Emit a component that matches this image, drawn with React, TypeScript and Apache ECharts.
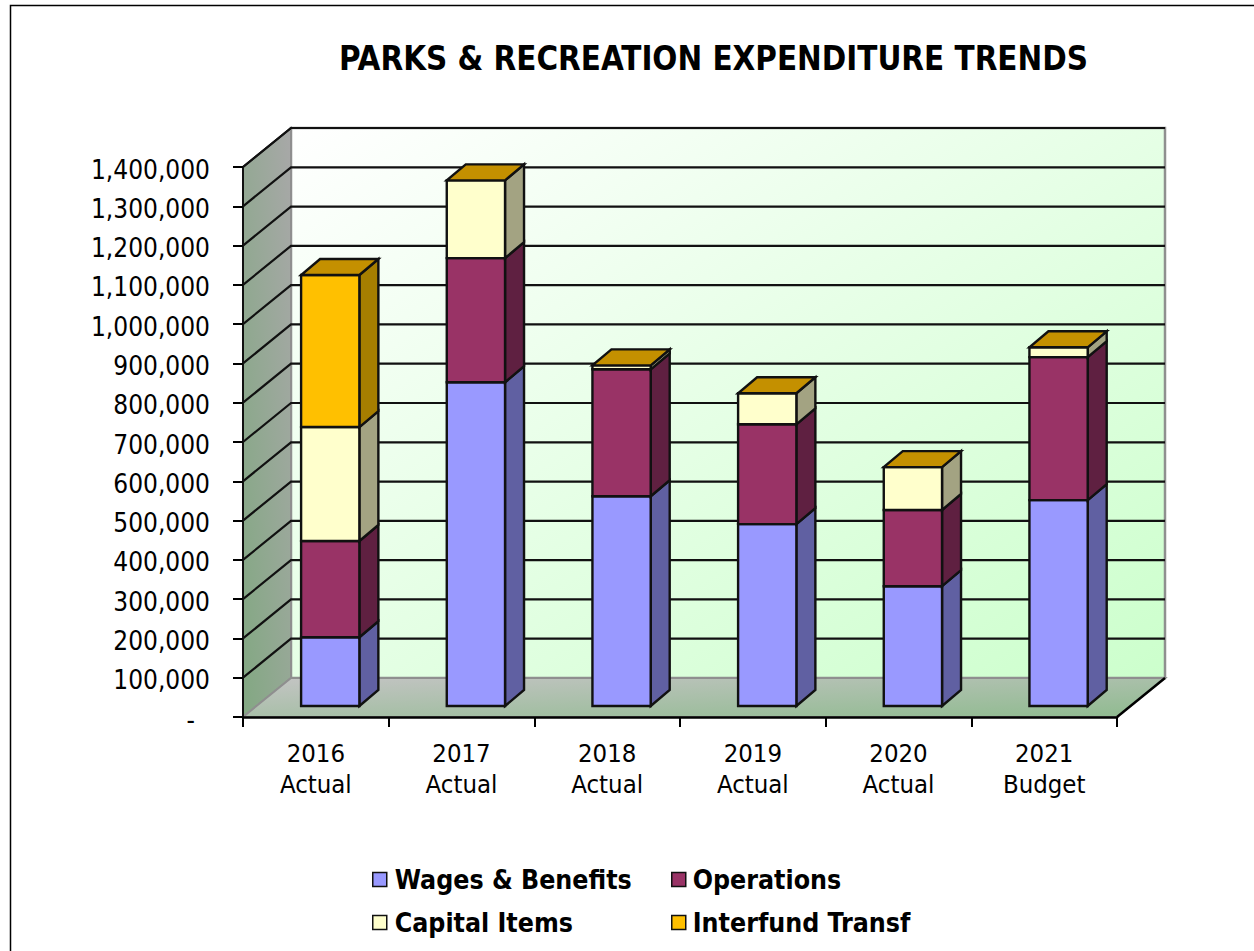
import React, { useEffect, useRef } from "react";
import * as echarts from "echarts";

const years = ["2016\nActual", "2017\nActual", "2018\nActual", "2019\nActual", "2020\nActual", "2021\nBudget"];
const wages = [175000, 824000, 534000, 463000, 305000, 524000];
const operations = [245000, 316000, 323000, 254000, 194000, 364000];
const capitalItems = [290000, 198000, 10000, 79000, 109000, 25000];
const interfund = [387000, 0, 0, 0, 0, 0];
const gridValues = [100000, 200000, 300000, 400000, 500000, 600000, 700000, 800000, 900000, 1000000, 1100000, 1200000, 1300000, 1400000];

const FONT = "'DejaVu Sans Condensed', 'DejaVu Sans', sans-serif";

// Projection of the chart's depth axis onto the screen
const WALL_DX = 48;
const WALL_DY = -39;
const BAR_DX = 14.4;
const BAR_DY = -11;
const BAR_DEPTH_X = 19;
const BAR_DEPTH_Y = -16;
const BAR_RATIO = 0.4;

const poly = (points: number[][], fill: any, stroke = "#111", lineWidth = 2.4) => ({
  type: "polygon",
  shape: { points },
  style: { fill, stroke, lineWidth, lineJoin: "miter" },
});

const renderWalls = (params: any) => {
  const { x, y, width: w, height: h } = params.coordSys;
  const b = y + h;
  const grey = "#8f8f8f";
  return {
    type: "group",
    children: [
      poly(
        [[x + WALL_DX, y + WALL_DY], [x + w + WALL_DX, y + WALL_DY], [x + w + WALL_DX, b + WALL_DY], [x + WALL_DX, b + WALL_DY]],
        new echarts.graphic.LinearGradient(0, 0, 1, 1, [
          { offset: 0, color: "#ffffff" },
          { offset: 1, color: "#ccffcc" },
        ]),
        grey,
        2.5
      ),
      poly(
        [[x, y], [x + WALL_DX, y + WALL_DY], [x + WALL_DX, b + WALL_DY], [x, b]],
        new echarts.graphic.LinearGradient(0, 1, 1, 0, [
          { offset: 0, color: "#82a882" },
          { offset: 1, color: "#a8a8a8" },
        ]),
        grey,
        2
      ),
      poly(
        [[x, b], [x + WALL_DX, b + WALL_DY], [x + w + WALL_DX, b + WALL_DY], [x + w, b]],
        new echarts.graphic.LinearGradient(0, 0, 1, 1, [
          { offset: 0, color: "#c4c4c4" },
          { offset: 1, color: "#8fbb8f" },
        ]),
        grey,
        2
      ),
      {
        type: "polyline",
        shape: { points: [[x + WALL_DX, y + WALL_DY], [x + w + WALL_DX, y + WALL_DY]] },
        style: { fill: "none", stroke: "#111", lineWidth: 2 },
      },
      {
        type: "polyline",
        shape: { points: [[x, y], [x + WALL_DX, y + WALL_DY]] },
        style: { fill: "none", stroke: "#222", lineWidth: 2 },
      },
      {
        type: "polyline",
        shape: { points: [[x + w, b], [x + w + WALL_DX, b + WALL_DY]] },
        style: { fill: "none", stroke: "#000", lineWidth: 2.4 },
      },
    ],
  };
};

const renderGridLine = (params: any, api: any) => {
  const { x, width: w } = params.coordSys;
  const py = api.coord([0, api.value(1)])[1];
  return {
    type: "polyline",
    shape: {
      points: [[x, py], [x + WALL_DX, py + WALL_DY], [x + w + WALL_DX, py + WALL_DY]],
    },
    style: { fill: "none", stroke: "#111", lineWidth: 2.2 },
  };
};

// One stacked segment of a 3D column: front, side and, for the last series, the lid
const makeBarRenderer = (front: string, side: string, lid?: string) => (_p: any, api: any) => {
  const catWidth = api.size([1, 0])[0];
  const bw = catWidth * BAR_RATIO;
  const low = api.coord([api.value(0), api.value(1)]);
  const high = api.coord([api.value(0), api.value(2)]);
  const x0 = low[0] - bw / 2 + BAR_DX;
  const x1 = x0 + bw;
  const yLow = low[1] + BAR_DY;
  const yHigh = high[1] + BAR_DY;
  const children: any[] = [];
  if (yLow - yHigh > 0.01) {
    children.push(poly([[x1, yLow], [x1 + BAR_DEPTH_X, yLow + BAR_DEPTH_Y], [x1 + BAR_DEPTH_X, yHigh + BAR_DEPTH_Y], [x1, yHigh]], side));
    children.push(poly([[x0, yLow], [x1, yLow], [x1, yHigh], [x0, yHigh]], front));
  }
  if (lid) {
    children.push(poly([[x0, yHigh], [x1, yHigh], [x1 + BAR_DEPTH_X, yHigh + BAR_DEPTH_Y], [x0 + BAR_DEPTH_X, yHigh + BAR_DEPTH_Y]], lid));
  }
  return { type: "group", children };
};

const stacked = (values: number[], below: number[][]) =>
  values.map((v, i) => {
    const base = below.reduce((sum, arr) => sum + arr[i], 0);
    return [i, base, base + v];
  });

const barSeries = (name: string, values: number[], below: number[][], front: string, side: string, lid?: string) => ({
  type: "custom",
  name,
  coordinateSystem: "cartesian2d",
  clip: false,
  z: 3,
  itemStyle: { color: front },
  encode: { x: 0, y: [1, 2] },
  data: stacked(values, below),
  renderItem: makeBarRenderer(front, side, lid),
});

const legendEntry = (name: string, left: number, top: number, textGap: number) => ({
  data: [name],
  left,
  top,
  orient: "horizontal",
  padding: 0,
  itemWidth: 14,
  itemHeight: 14,
  selectedMode: false,
  icon: "rect",
  itemStyle: { borderColor: "#111", borderWidth: 1.5 },
  textStyle: { fontFamily: FONT, fontSize: 26.5, fontWeight: "bold", color: "#000", padding: [0, 0, 0, textGap] },
});

export default function App() {
  const ref = useRef<HTMLDivElement>(null);

  useEffect(() => {
    const chart = echarts.init(ref.current!, undefined, { renderer: "svg" });
    chart.setOption({
      animation: false,
      backgroundColor: "#fff",
      title: {
        text: "PARKS & RECREATION EXPENDITURE TRENDS",
        left: 339,
        top: 42,
        padding: 0,
        textStyle: { fontFamily: FONT, fontSize: 32.8, fontWeight: "bold", color: "#000" },
      },
      grid: { left: 243, right: 137, top: 167, bottom: 234, containLabel: false },
      legend: [
        legendEntry("Wages & Benefits", 372, 866, 3),
        legendEntry("Operations", 671, 866, 2),
        legendEntry("Capital Items", 372, 909, 3),
        legendEntry("Interfund Transf", 671, 909, 2),
      ],
      xAxis: {
        type: "category",
        data: years,
        boundaryGap: true,
        axisLine: { lineStyle: { color: "#000", width: 2.5 } },
        axisTick: { show: true, length: 10, alignWithLabel: false, lineStyle: { color: "#000", width: 2 } },
        axisLabel: { interval: 0, margin: 20, fontFamily: FONT, fontSize: 25.5, lineHeight: 31, color: "#000" },
      },
      yAxis: {
        type: "value",
        min: 0,
        max: 1400000,
        interval: 100000,
        splitLine: { show: false },
        axisLine: { show: true, lineStyle: { color: "#111", width: 2 } },
        axisTick: { show: true, length: 10, lineStyle: { color: "#000", width: 2 } },
        axisLabel: {
          margin: 33,
          fontFamily: FONT,
          fontSize: 26,
          color: "#000",
          formatter: (v: number) => (v === 0 ? "{dash|-}" : `{num|${v.toLocaleString("en-US")}}`),
          rich: {
            num: { fontFamily: FONT, fontSize: 26, color: "#000", padding: [5, 0, 0, 0] },
            dash: { fontFamily: FONT, fontSize: 26, color: "#000", padding: [5, 15, 0, 0] },
          },
        },
      },
      graphic: [
        {
          type: "polyline",
          silent: true,
          shape: { points: [[10.5, 951], [10.5, 5.5], [1254, 5.5]] },
          style: { fill: "none", stroke: "#000", lineWidth: 1.5 },
        },
      ],
      series: [
        {
          type: "custom",
          coordinateSystem: "cartesian2d",
          clip: false,
          z: -2,
          silent: true,
          data: [[0, 0]],
          renderItem: renderWalls,
        },
        {
          type: "custom",
          coordinateSystem: "cartesian2d",
          clip: false,
          z: -1,
          silent: true,
          data: gridValues.map((v) => [0, v]),
          renderItem: renderGridLine,
        },
        barSeries("Wages & Benefits", wages, [], "#9999ff", "#6060a2"),
        barSeries("Operations", operations, [wages], "#993366", "#5f2041"),
        barSeries("Capital Items", capitalItems, [wages, operations], "#ffffcc", "#a3a382"),
        barSeries("Interfund Transf", interfund, [wages, operations, capitalItems], "#ffc000", "#a67e00", "#c49000"),
      ],
    });
    return () => chart.dispose();
  }, []);

  return <div ref={ref} style={{ position: "absolute", left: 0, top: 0, width: 1254, height: 951 }} />;
}
